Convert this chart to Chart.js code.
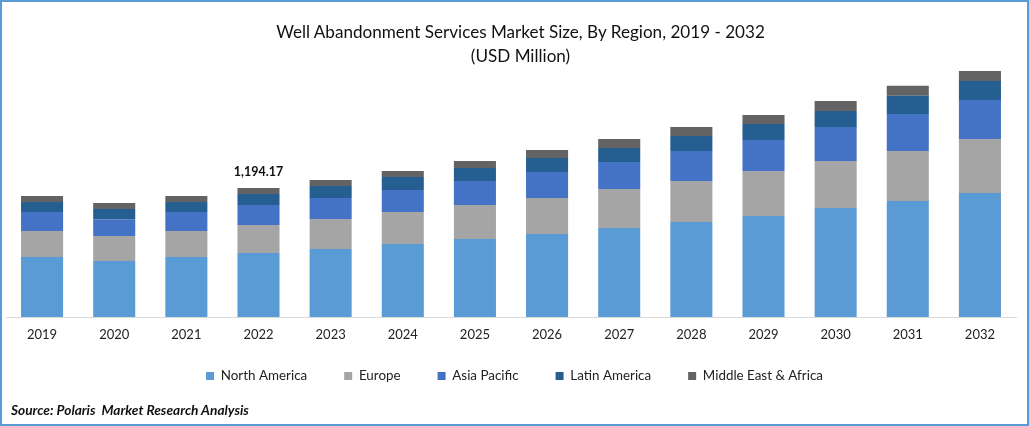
<!DOCTYPE html>
<html>
<head>
<meta charset="utf-8">
<title>Well Abandonment Services Market Size</title>
<script src="https://cdn.jsdelivr.net/npm/chart.js@4"></script>
<style>
  html, body { margin: 0; padding: 0; background: #fff; }
  #wrap { position: relative; width: 1029px; height: 426px; overflow: hidden; font-family: Lato, sans-serif; }
  #frame { position: absolute; left: 0; top: 0; width: 1029px; height: 426px; box-sizing: border-box; border: 2.5px solid #5B9BD5; pointer-events: none; }
  #title { position: absolute; left: 0; top: 20px; width: 1041px; text-align: center; font-size: 17.1px; line-height: 24px; color: #111; }
  #source { position: absolute; left: 11px; top: 401px; font-size: 13.7px; font-weight: bold; font-style: italic; color: #111; }
  canvas { position: absolute; left: 0; top: 0; }
</style>
</head>
<body>
<div id="wrap">
  <canvas id="myChart" width="1029" height="426"></canvas>
  <div id="title">Well Abandonment Services Market Size, By Region, 2019 - 2032<br>(USD Million)</div>
  <div id="source">Source: Polaris&nbsp; Market Research Analysis</div>
  <div id="frame"></div>
</div>
<script>
const years = ["2019","2020","2021","2022","2023","2024","2025","2026","2027","2028","2029","2030","2031","2032"];
const northAmerica = [555, 518, 555, 593, 629, 676, 722, 768, 824, 879, 935, 1009, 1074, 1148];
const europe = [241, 231, 241, 259, 278, 296, 315, 333, 361, 380, 417, 435, 463, 500];
const asiaPacific = [176, 157, 176, 185, 194, 204, 222, 241, 250, 278, 287, 315, 343, 361];
const latinAmerica = [93, 93, 93, 102, 111, 120, 120, 130, 130, 139, 148, 148, 167, 176];
const middleEastAfrica = [56, 56, 56, 55.17, 56, 56, 65, 74, 83, 83, 83, 93, 93, 93];
const calloutIndex = 3;
const calloutText = "1,194.17";

// value label above the 2022 bar, legend pulled up (its top padding is as wide as the item gap)
const calloutPlugin = {
  id: "callout",
  afterLayout(chart) {
    chart.legend.top -= 12.7;
    chart.legend.bottom -= 12.7;
  },
  afterDatasetsDraw(chart) {
    const bar = chart.getDatasetMeta(4).data[calloutIndex];
    const ctx = chart.ctx;
    ctx.save();
    ctx.font = "bold 12.5px Lato";
    ctx.fillStyle = "#111";
    ctx.textAlign = "center";
    ctx.textBaseline = "middle";
    ctx.fillText(calloutText, bar.x, bar.y - 16);
    ctx.restore();
  },
};

const makeSet = (label, values, color) => ({
  label,
  data: values,
  backgroundColor: color,
  borderWidth: 0,
  categoryPercentage: 1,
  barPercentage: 0.583,
});

new Chart(document.getElementById("myChart"), {
  type: "bar",
  data: {
    labels: years,
    datasets: [
      makeSet("North America", northAmerica, "#5B9BD5"),
      makeSet("Europe", europe, "#A5A5A5"),
      makeSet("Asia Pacific", asiaPacific, "#4472C4"),
      makeSet("Latin America", latinAmerica, "#255E91"),
      makeSet("Middle East & Africa", middleEastAfrica, "#636363"),
    ],
  },
  plugins: [calloutPlugin],
  options: {
    responsive: false,
    animation: false,
    layout: { padding: { top: 66, left: 6, right: 6, bottom: 20.6 } },
    plugins: {
      title: { display: false },
      tooltip: { enabled: false },
      legend: {
        position: "bottom",
        labels: {
          boxWidth: 8,
          boxHeight: 8,
          padding: 37,
          color: "#222",
          font: { family: "Lato", size: 13.4 },
        },
      },
    },
    scales: {
      x: {
        stacked: true,
        grid: { display: false, drawTicks: false },
        border: { color: "#D9D9D9", width: 1 },
        ticks: {
          color: "#222",
          padding: 10,
          maxRotation: 0,
          autoSkip: false,
          font: { family: "Lato", size: 13 },
        },
        afterFit(scale) { scale.height = 28; },
      },
      y: {
        stacked: true,
        position: "right",
        min: 0,
        max: 2323.5,
        grid: { display: false },
        border: { display: false },
        ticks: { display: false },
        afterFit(scale) { scale.width = 7; },
      },
    },
  },
});
</script>
</body>
</html>
